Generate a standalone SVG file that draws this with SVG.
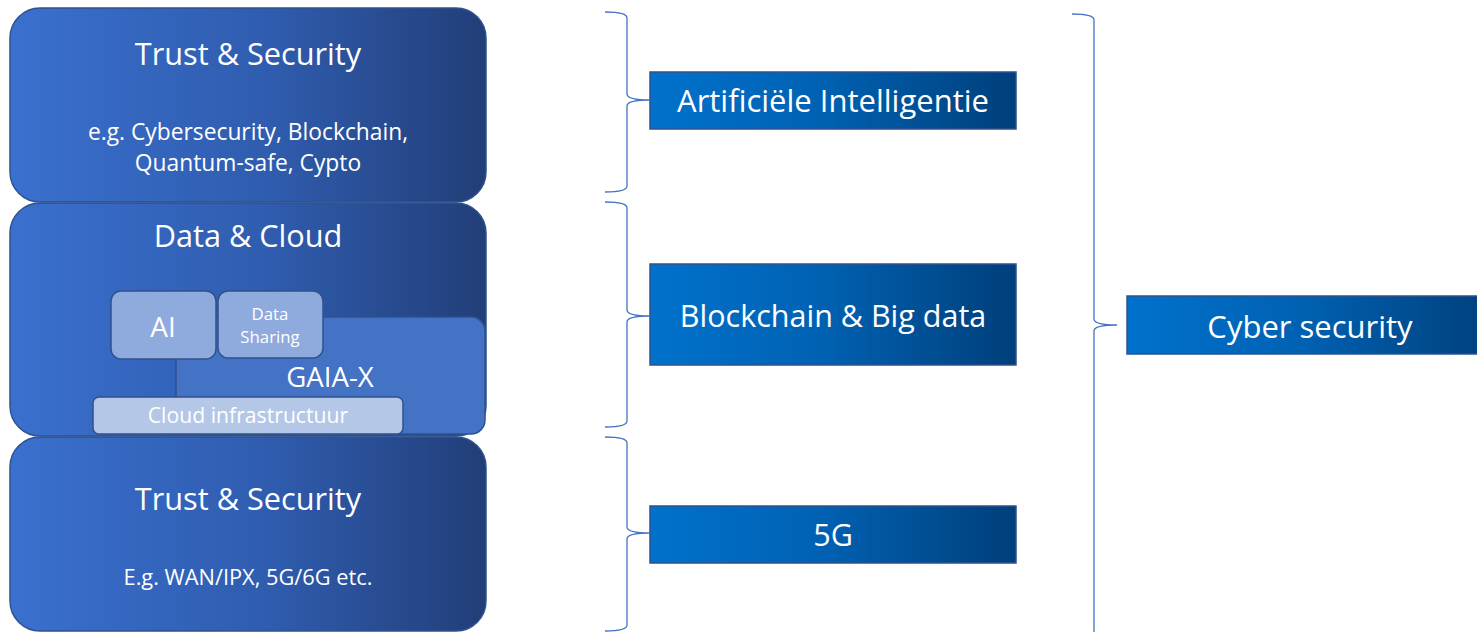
<svg xmlns="http://www.w3.org/2000/svg" width="1477" height="632" viewBox="0 0 1477 632">
<defs>
<linearGradient id="gBig" x1="0" y1="0" x2="1" y2="0">
<stop offset="0" stop-color="#3a70cf"/>
<stop offset="0.55" stop-color="#2f5cae"/>
<stop offset="1" stop-color="#223e78"/>
</linearGradient>
<linearGradient id="gRight" x1="0" y1="0" x2="1" y2="0">
<stop offset="0" stop-color="#0072cc"/>
<stop offset="0.45" stop-color="#0062b4"/>
<stop offset="1" stop-color="#003f7b"/>
</linearGradient>
<style>
text{font-family:"Open Sans","Liberation Sans",sans-serif;fill:#ffffff;text-anchor:middle}
.big{fill:url(#gBig);stroke:#2f528f;stroke-width:1.5}
.rbox{fill:url(#gRight);stroke:#2f528f;stroke-width:1.5}
.brace{fill:none;stroke:#4472c4;stroke-width:1.3}
.t30{font-size:30.7px}
.t31{font-size:31px}
.light{fill:#8faadc;stroke:#2f528f;stroke-width:1.5}
.pale{fill:#b4c7e7;stroke:#2f528f;stroke-width:1.5}
</style>
</defs>
<g id="layer-trust-top">
<rect class="big" x="10" y="8" width="476" height="194" rx="30"/>
<text class="t30" x="248" y="65">Trust &amp; Security</text>
<text x="248" y="140" font-size="22.8">e.g. Cybersecurity, Blockchain,</text>
<text x="248" y="171" font-size="22.8">Quantum-safe, Cypto</text>
</g>
<g id="layer-data-cloud">
<rect class="big" x="10" y="203" width="476" height="233" rx="30"/>
<text class="t30" x="248" y="247">Data &amp; Cloud</text>
</g>
<g id="gaia-x">
<rect x="176" y="317" width="309" height="117" rx="14" fill="#4472c4" stroke="#2f528f" stroke-width="1.5"/>
<text x="330" y="387" font-size="27.6">GAIA-X</text>
</g>
<g id="ai">
<rect class="light" x="111" y="291" width="105" height="68" rx="10"/>
<text x="163" y="337" font-size="28">AI</text>
</g>
<g id="data-sharing">
<rect class="light" x="218" y="291" width="105" height="67" rx="10"/>
<text x="270" y="320" font-size="16.8">Data</text>
<text x="270" y="343" font-size="16.8">Sharing</text>
</g>
<g id="cloud-infra">
<rect class="pale" x="93" y="397" width="310" height="37" rx="6"/>
<text x="248" y="423" font-size="21.2">Cloud infrastructuur</text>
</g>
<g id="layer-trust-bottom">
<rect class="big" x="10" y="437" width="476" height="194" rx="30"/>
<text class="t30" x="248" y="510">Trust &amp; Security</text>
<text x="248" y="585" font-size="21.8">E.g. WAN/IPX, 5G/6G etc.</text>
</g>
<g id="ai-box">
<rect class="rbox" x="650" y="72" width="366" height="57"/>
<text class="t31" x="833" y="112">Artificiële Intelligentie</text>
</g>
<g id="blockchain-box">
<rect class="rbox" x="650" y="264" width="366" height="101"/>
<text x="833" y="327" font-size="30.5">Blockchain &amp; Big data</text>
</g>
<g id="fiveg-box">
<rect class="rbox" x="650" y="506" width="366" height="57"/>
<text x="833" y="546" font-size="30.5">5G</text>
</g>
<g id="cyber-box">
<rect class="rbox" x="1127" y="296" width="370" height="58"/>
<text class="t31" x="1310" y="338">Cyber security</text>
</g>
<g id="connectors">
<path class="brace" d="M605,12 Q627,12 627,18 L627,94 Q627,100 650,100 Q627,100 627,106 L627,186 Q627,192 605,192"/>
<path class="brace" d="M605,202 Q627,202 627,208 L627,310 Q627,316 650,316 Q627,316 627,322 L627,421 Q627,427 605,427"/>
<path class="brace" d="M605,437 Q627,437 627,443 L627,527 Q627,533 650,533 Q627,533 627,539 L627,625 Q627,631 605,631"/>
<path class="brace" d="M1072,14 Q1094,14 1094,20 L1094,319 Q1094,325 1117,325 Q1094,325 1094,331 L1094,640"/>
</g>
</svg>
